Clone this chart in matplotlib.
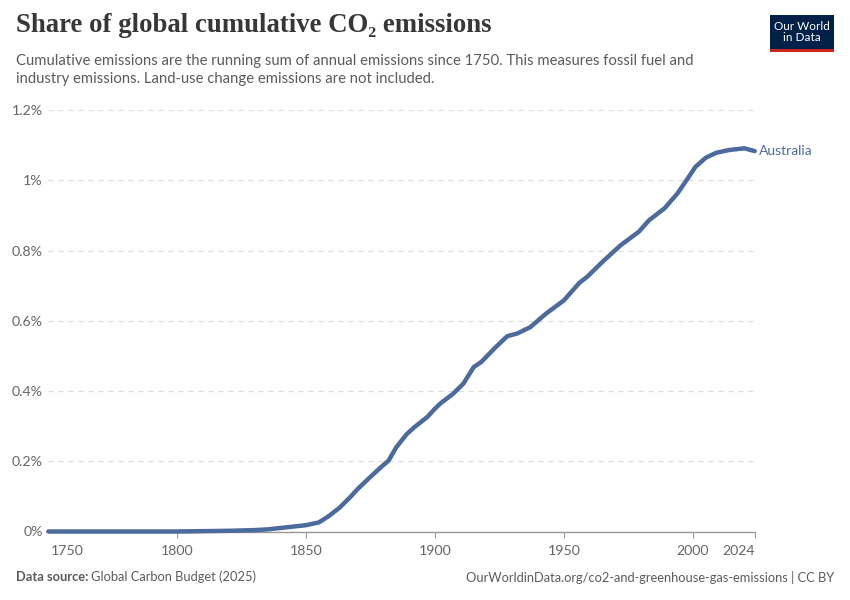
import matplotlib
matplotlib.use("Agg")
import matplotlib.pyplot as plt
import matplotlib.transforms as mtransforms
from matplotlib.patches import Rectangle

# share of global cumulative CO2 (%)
years = [1750, 1760, 1770, 1780, 1790, 1800, 1810, 1820, 1830, 1835, 1840, 1845,
         1850, 1855, 1859, 1863, 1867, 1870, 1874, 1879, 1882, 1885, 1889, 1892,
         1897, 1900, 1902, 1907, 1911, 1915, 1918, 1923, 1928, 1932, 1937, 1943,
         1950, 1956, 1959, 1965, 1972, 1979, 1983, 1989, 1994, 1998, 2001, 2005,
         2009, 2014, 2020, 2024]
share = [0.0, 0.0, 0.0, 0.0, 0.0, 0.0, 0.001, 0.002, 0.004, 0.006, 0.010, 0.014,
         0.018, 0.026, 0.045, 0.068, 0.097, 0.121, 0.149, 0.183, 0.202, 0.240, 0.277, 0.297,
         0.326, 0.350, 0.364, 0.392, 0.421, 0.468, 0.483, 0.521, 0.556, 0.564, 0.582, 0.620,
         0.658, 0.708, 0.725, 0.768, 0.815, 0.853, 0.886, 0.920, 0.962, 1.005, 1.038, 1.064,
         1.078, 1.086, 1.091, 1.083]
country = "Australia"

x_ticks = [1750, 1800, 1850, 1900, 1950, 2000, 2024]
y_ticks = [0, 0.2, 0.4, 0.6, 0.8, 1.0, 1.2]
y_labels = ["0%", "0.2%", "0.4%", "0.6%", "0.8%", "1%", "1.2%"]

blue = "#4c6a9c"
grey = "#5b5b5b"
W, H = 850, 600

fig = plt.figure(figsize=(8.5, 6), dpi=100)
ax = fig.add_axes([48.3 / W, 68.5 / H, 706.4 / W, 421.5 / H])

ax.plot(years, share, color=blue, lw=3.2, solid_capstyle="round", solid_joinstyle="round",
        clip_on=False, zorder=3)
ax.text(years[-1] + 1.5, share[-1], country, color=blue, fontsize=10, family="Lato",
        va="center", ha="left")

ax.set_xlim(1750, 2024)
ax.set_ylim(0, 1.2)
ax.set_xticks(x_ticks)
ax.set_xticklabels([str(t) for t in x_ticks], fontsize=10.2, family="Lato", color="#666666")
ax.set_yticks(y_ticks)
ax.set_yticklabels(y_labels, fontsize=10.2, family="Lato", color="#666666")
ax.tick_params(axis="x", length=4, color="#999999", pad=6)
ax.tick_params(axis="y", length=0, pad=4)
# first and last year labels are nudged inward like the original
labels = ax.get_xticklabels()
labels[0].set_ha("left")
labels[0].set_transform(labels[0].get_transform() + mtransforms.ScaledTranslation(2 / 100, 0, fig.dpi_scale_trans))
labels[-1].set_ha("right")
ax.xaxis.get_major_ticks()[0].tick1line.set_visible(False)

for s in ["top", "right", "left"]:
    ax.spines[s].set_visible(False)
ax.spines["bottom"].set_color("#999999")
ax.spines["bottom"].set_linewidth(1)

# dashed gridlines
ax.yaxis.grid(True, linestyle=(0, (4, 4)), color="#dddddd", linewidth=0.9)
ax.set_axisbelow(True)

# title block
fig.text(16 / W, 1 - 26 / H, "Share of global cumulative CO₂ emissions", fontsize=19.3,
         family=["Liberation Serif", "DejaVu Serif"], weight="bold", color="#373737", va="center")
fig.text(16 / W, 1 - 70 / H,
         "Cumulative emissions are the running sum of annual emissions since 1750. This measures fossil fuel and\n"
         "industry emissions. Land-use change emissions are not included.",
         fontsize=10.7, family="Lato", color=grey, va="center", linespacing=1.3)

# logo
fig.patches.append(Rectangle((770 / W, 1 - 52 / H), 64 / W, 37 / H, transform=fig.transFigure,
                             facecolor="#002147", edgecolor="none"))
fig.patches.append(Rectangle((770 / W, 1 - 52 / H), 64 / W, 3 / H, transform=fig.transFigure,
                             facecolor="#ce261e", edgecolor="none"))
fig.text(802 / W, 1 - 32 / H, "Our World\nin Data", fontsize=8.5, family="Lato", color="white",
         ha="center", va="center", linespacing=1.05)

# footer
fig.text(16 / W, 1 - 577 / H, "Data source:", fontsize=9.3, family="Lato", color=grey,
         weight="bold", va="center")
fig.text(91 / W, 1 - 577 / H, "Global Carbon Budget (2025)", fontsize=9.3, family="Lato",
         color=grey, va="center")
fig.text(834 / W, 1 - 577 / H, "OurWorldinData.org/co2-and-greenhouse-gas-emissions | CC BY",
         fontsize=9.3, family="Lato", color=grey, va="center", ha="right")

fig.savefig("out.png", dpi=100)
